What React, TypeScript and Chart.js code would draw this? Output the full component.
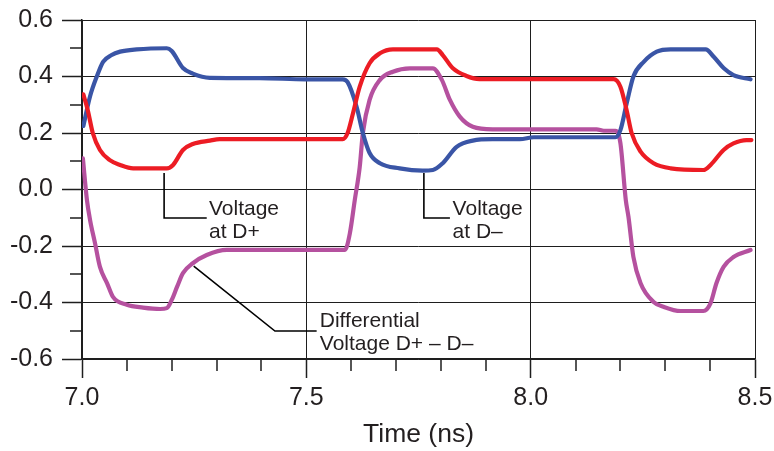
import React, { useEffect, useRef } from 'react';
import { Chart, registerables } from 'chart.js';

Chart.register(...registerables);

// ---- Data (time in ns, voltage in V) ----
const dPlusTime = [7.003, 7.013, 7.024, 7.04, 7.062, 7.085, 7.114, 7.189, 7.203, 7.225, 7.247, 7.285, 7.307, 7.581, 7.592, 7.604, 7.619, 7.641, 7.664, 7.693, 7.791, 7.804, 7.826, 7.857, 7.886, 8.185, 8.2, 8.214, 8.225, 8.245, 8.274, 8.312, 8.385, 8.401, 8.43, 8.452, 8.481, 8.492];
const dPlusVolts = [0.337, 0.28, 0.2, 0.14, 0.104, 0.087, 0.075, 0.075, 0.087, 0.14, 0.161, 0.173, 0.178, 0.178, 0.2, 0.27, 0.364, 0.447, 0.482, 0.496, 0.496, 0.476, 0.43, 0.402, 0.391, 0.391, 0.364, 0.28, 0.2, 0.134, 0.093, 0.075, 0.069, 0.087, 0.14, 0.163, 0.175, 0.175];

const dMinusTime = [7.003, 7.018, 7.033, 7.047, 7.065, 7.085, 7.122, 7.189, 7.2, 7.225, 7.247, 7.285, 7.396, 7.499, 7.581, 7.592, 7.612, 7.626, 7.641, 7.664, 7.708, 7.759, 7.782, 7.804, 7.835, 7.871, 7.915, 7.976, 8.007, 8.189, 8.2, 8.214, 8.229, 8.252, 8.281, 8.312, 8.39, 8.408, 8.43, 8.452, 8.49];
const dMinusVolts = [0.225, 0.33, 0.4, 0.452, 0.475, 0.488, 0.496, 0.5, 0.49, 0.43, 0.41, 0.395, 0.394, 0.39, 0.39, 0.38, 0.293, 0.2, 0.129, 0.093, 0.075, 0.067, 0.069, 0.093, 0.151, 0.173, 0.178, 0.178, 0.185, 0.185, 0.21, 0.305, 0.4, 0.452, 0.488, 0.496, 0.496, 0.47, 0.43, 0.405, 0.39];

const diffTime = [7.002, 7.011, 7.018, 7.029, 7.04, 7.056, 7.069, 7.1, 7.136, 7.174, 7.189, 7.2, 7.212, 7.225, 7.247, 7.278, 7.323, 7.586, 7.597, 7.608, 7.619, 7.626, 7.641, 7.664, 7.693, 7.731, 7.782, 7.802, 7.82, 7.842, 7.871, 7.915, 8.147, 8.163, 8.189, 8.2, 8.212, 8.218, 8.229, 8.245, 8.274, 8.296, 8.334, 8.385, 8.401, 8.414, 8.43, 8.452, 8.49];
const diffVolts = [0.11, -0.037, -0.108, -0.19, -0.274, -0.332, -0.38, -0.408, -0.418, -0.423, -0.42, -0.391, -0.344, -0.296, -0.261, -0.232, -0.214, -0.214, -0.155, -0.037, 0.08, 0.2, 0.317, 0.388, 0.417, 0.429, 0.429, 0.388, 0.317, 0.258, 0.222, 0.213, 0.213, 0.208, 0.208, 0.164, -0.037, -0.097, -0.239, -0.332, -0.398, -0.415, -0.43, -0.43, -0.402, -0.332, -0.274, -0.239, -0.214];

const xMinorTicks = [7.1, 7.2, 7.3, 7.4, 7.6, 7.7, 7.8, 7.9, 8.1, 8.2, 8.3, 8.4];
const yMinorTicks = [-0.5, -0.3, -0.1, 0.1, 0.3, 0.5];

const xAxisTitle = 'Time (ns)';

const FONT = '"Liberation Sans", Arial, Helvetica, sans-serif';
const TEXT = '#231f20';
const LINE = '#1e1e1e';

// Callout annotations (anchor coordinates in data units)
const callouts = [
  { lines: ['Voltage', 'at D+'], path: [[7.183, 0.058], [7.183, -0.101], [7.278, -0.101]], text: [7.283, -0.09] },
  { lines: ['Voltage', 'at D\u2013'], path: [[7.762, 0.058], [7.762, -0.101], [7.82, -0.101]], text: [7.826, -0.09] },
  { lines: ['Differential', 'Voltage D+ \u2013 D\u2013'], path: [[7.249, -0.271], [7.43, -0.501], [7.523, -0.501]], text: [7.53, -0.487] },
];

const zip = (t: number[], v: number[]) => t.map((x, i) => ({ x, y: v[i] }));

const overlayPlugin = {
  id: 'overlay',
  afterDraw(chart: any) {
    const { ctx, chartArea } = chart;
    const xs = chart.scales.x;
    const ys = chart.scales.y;
    ctx.save();
    ctx.strokeStyle = LINE;
    ctx.lineWidth = 1.5;
    xMinorTicks.forEach((v) => {
      const px = Math.round(xs.getPixelForValue(v));
      ctx.beginPath();
      ctx.moveTo(px, chartArea.bottom);
      ctx.lineTo(px, chartArea.bottom + 12);
      ctx.stroke();
    });
    yMinorTicks.forEach((v) => {
      const py = Math.round(ys.getPixelForValue(v));
      ctx.beginPath();
      ctx.moveTo(chartArea.left, py);
      ctx.lineTo(chartArea.left - 12, py);
      ctx.stroke();
    });
    // callouts
    ctx.lineWidth = 1.6;
    ctx.strokeStyle = '#000';
    ctx.fillStyle = TEXT;
    ctx.font = `21px ${FONT}`;
    ctx.textAlign = 'left';
    ctx.textBaseline = 'alphabetic';
    callouts.forEach((c) => {
      ctx.beginPath();
      c.path.forEach((p, i) => {
        const px = xs.getPixelForValue(p[0]);
        const py = ys.getPixelForValue(p[1]);
        if (i === 0) ctx.moveTo(px, py);
        else ctx.lineTo(px, py);
      });
      ctx.stroke();
      const tx = xs.getPixelForValue(c.text[0]);
      const ty = ys.getPixelForValue(c.text[1]);
      c.lines.forEach((l, i) => ctx.fillText(l, tx, ty + i * 23));
    });
    ctx.restore();
  },
};

export default function App() {
  const ref = useRef<HTMLCanvasElement>(null);
  useEffect(() => {
    if (!ref.current) return;
    const lineDs = (label: string, data: any[], color: string) => ({
      label,
      data,
      borderColor: color,
      backgroundColor: color,
      borderWidth: 4.2,
      pointRadius: 0,
      cubicInterpolationMode: 'monotone' as const,
      borderJoinStyle: 'round' as const,
      borderCapStyle: 'round' as const,
      fill: false,
    });
    const chart = new Chart(ref.current, {
      type: 'line',
      data: {
        datasets: [
          lineDs('Voltage at D+', zip(dPlusTime, dPlusVolts), '#ec1c24'),
          lineDs('Voltage at D\u2013', zip(dMinusTime, dMinusVolts), '#3a55a6'),
          lineDs('Differential Voltage D+ \u2013 D\u2013', zip(diffTime, diffVolts), '#b5519f'),
        ],
      },
      options: {
        animation: false,
        responsive: false,
        events: [],
        layout: { padding: { left: 0, top: 20, right: 19, bottom: 0 } },
        plugins: { legend: { display: false }, tooltip: { enabled: false } },
        scales: {
          x: {
            type: 'linear',
            min: 7,
            max: 8.5,
            afterFit: (s: any) => { s.height = 92; s.paddingLeft = 0; s.paddingRight = 0; },
            ticks: {
              stepSize: 0.5,
              padding: 5,
              color: TEXT,
              font: { family: FONT, size: 25 },
              maxRotation: 0,
              callback: (v: any) => Number(v).toFixed(1),
            },
            grid: { color: LINE, lineWidth: 1, drawTicks: true, tickLength: 19, tickWidth: 1.5, tickColor: LINE },
            border: { display: true, color: LINE, width: 1.5 },
            title: { display: true, text: xAxisTitle, color: TEXT, font: { family: FONT, size: 26.5 }, padding: { top: 0, bottom: 0 } },
          },
          y: {
            type: 'linear',
            min: -0.6,
            max: 0.6,
            afterFit: (s: any) => { s.width = 82; s.paddingTop = 0; s.paddingBottom = 0; },
            ticks: {
              stepSize: 0.2,
              padding: 9,
              color: TEXT,
              font: { family: FONT, size: 25 },
              callback: (v: any) => {
                const n = Number(v);
                return Math.abs(n) < 1e-9 ? '0.0' : n.toFixed(1);
              },
            },
            grid: { color: LINE, lineWidth: 1, drawTicks: true, tickLength: 20, tickWidth: 1.5, tickColor: LINE },
            border: { display: true, color: LINE, width: 1.5 },
          },
        },
      },
      plugins: [overlayPlugin],
    });
    return () => chart.destroy();
  }, []);
  return (
    <div style={{ position: 'absolute', left: 0, top: 0, width: 774, height: 451, background: '#fff' }}>
      <canvas ref={ref} width={774} height={451} style={{ width: 774, height: 451, display: 'block' }} />
    </div>
  );
}
